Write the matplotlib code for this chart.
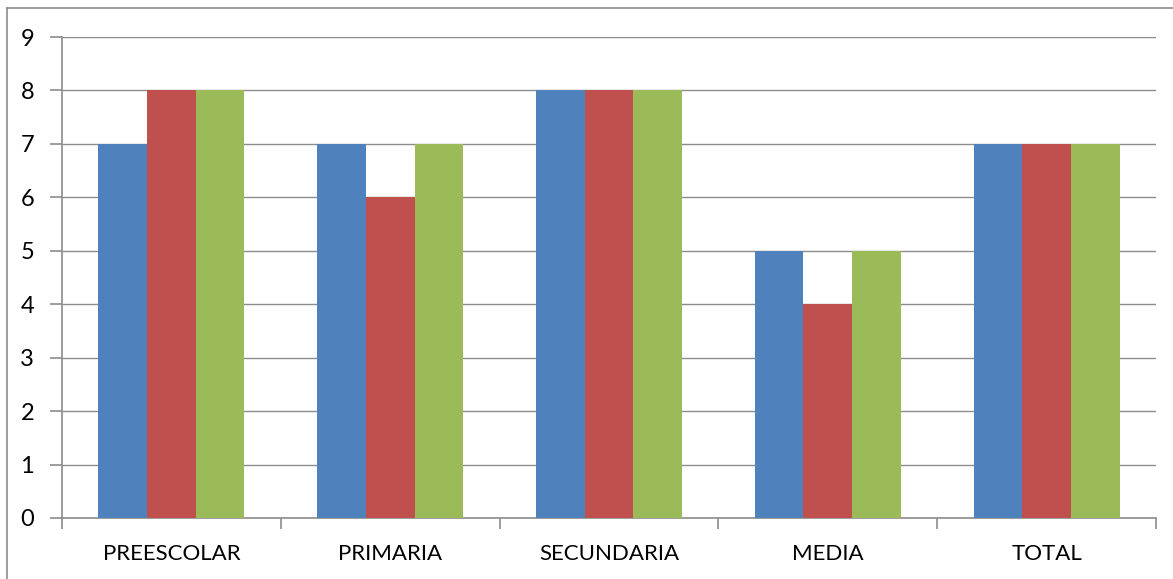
import matplotlib
matplotlib.use("Agg")
import matplotlib.pyplot as plt
import numpy as np
from matplotlib.lines import Line2D

categories = ["PREESCOLAR", "PRIMARIA", "SECUNDARIA", "MEDIA", "TOTAL"]
serie1 = [7, 7, 8, 5, 7]
serie2 = [8, 6, 8, 4, 7]
serie3 = [8, 7, 8, 5, 7]
yticks = list(range(0, 10))

colors = ["#4F81BD", "#C0504D", "#9BBB59"]

plt.rcParams['font.family'] = ['Lato', 'DejaVu Sans']

W, H = 1173, 579
fig = plt.figure(figsize=(W/100, H/100), dpi=100)
ax = fig.add_axes([62/W, 1-518/H, (1156-62)/W, (518-37)/H])

x = np.arange(len(categories))
bw = 0.667/3
for i, (vals, c) in enumerate(zip([serie1, serie2, serie3], colors)):
    ax.bar(x + (i-1)*bw, vals, width=bw, color=c, zorder=3)

ax.set_xlim(-0.5, len(categories)-0.5)
ax.set_ylim(0, 9)
ax.set_yticks(yticks)
ax.set_yticklabels([str(v) for v in yticks], fontsize=17)
ax.yaxis.grid(True, color="#8C8C8C", linewidth=1.0, zorder=0)
ax.set_axisbelow(True)

ax.set_xticks(x)
ax.set_xticklabels(categories, fontsize=16)
ax.tick_params(axis='x', length=0, pad=19)
ax.set_xticks(np.arange(-0.5, len(categories)), minor=True)
ax.tick_params(axis='x', which='minor', length=8, color="#8C8C8C", width=1.2)
ax.tick_params(axis='y', length=9, color="#8C8C8C", width=1.2, pad=11)

for s in ["top", "right"]:
    ax.spines[s].set_visible(False)
for s in ["left", "bottom"]:
    ax.spines[s].set_color("#8C8C8C")
    ax.spines[s].set_linewidth(1.2)

# outer chart frame
fig.add_artist(Line2D([7/W, 7/W], [0, 1-8/H], transform=fig.transFigure, color="#8C8C8C", linewidth=1.2))
fig.add_artist(Line2D([7/W, 1], [1-8/H, 1-8/H], transform=fig.transFigure, color="#8C8C8C", linewidth=1.2))

fig.savefig("out.png", dpi=100)
